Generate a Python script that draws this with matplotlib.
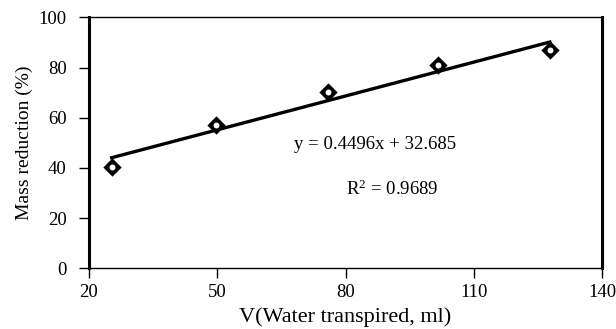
import matplotlib
matplotlib.use("Agg")
import matplotlib.pyplot as plt

# values
water_ml = [25.3, 49.6, 76.0, 101.6, 127.8]
mass_reduction = [40.5, 56.9, 70.2, 80.8, 87.0]
slope = 0.4496
intercept = 32.685
r_squared = 0.9689
x_ticks = [20, 50, 80, 110, 140]
y_ticks = [0, 20, 40, 60, 80, 100]

plt.rcParams["font.family"] = ["Liberation Serif", "DejaVu Serif"]
plt.rcParams["mathtext.fontset"] = "custom"
plt.rcParams["mathtext.rm"] = "Liberation Serif"
plt.rcParams["mathtext.it"] = "Liberation Serif:italic"

fig = plt.figure(figsize=(6.16, 3.29), dpi=100)
ax = fig.add_axes([89 / 616, 1 - 268.3 / 329, 513 / 616, 251 / 329])

# trend line over the measured range
x0, x1 = min(water_ml), max(water_ml)
ax.plot([x0, x1], [slope * x0 + intercept, slope * x1 + intercept],
        color="black", lw=2.4, zorder=2)

ax.plot(water_ml, mass_reduction, linestyle="none", marker="D",
        markersize=7, markerfacecolor="white", markeredgecolor="black",
        markeredgewidth=2.2, zorder=3)
ax.plot(water_ml, mass_reduction, linestyle="none", marker="o",
        markersize=6.5, markerfacecolor="none", markeredgecolor="black",
        markeredgewidth=2.2, zorder=4)

ax.text(87, 49.5, "y = %.4fx + %.3f" % (slope, intercept),
        ha="center", va="center", fontsize=13.5)
ax.text(91, 31.5, r"R$^{\mathrm{2}}$ = %.4f" % r_squared,
        ha="center", va="center", fontsize=13.5)

ax.set_xlim(20, 140)
ax.set_ylim(0, 100)
ax.set_xticks(x_ticks)
ax.set_yticks(y_ticks)
ax.tick_params(axis="both", direction="out", length=7, width=1,
               labelsize=13.5, color="black")
ax.tick_params(axis="x", pad=4)
ax.tick_params(axis="y", pad=9)

ax.spines["left"].set_linewidth(2.2)
ax.spines["right"].set_linewidth(2.2)
ax.spines["top"].set_linewidth(1.0)
ax.spines["bottom"].set_linewidth(1.0)

ax.set_xlabel("V(Water transpired, ml)", fontsize=16, labelpad=5)
ax.set_ylabel("Mass reduction (%)", fontsize=14, labelpad=4)

fig.savefig("out.png", dpi=100)
